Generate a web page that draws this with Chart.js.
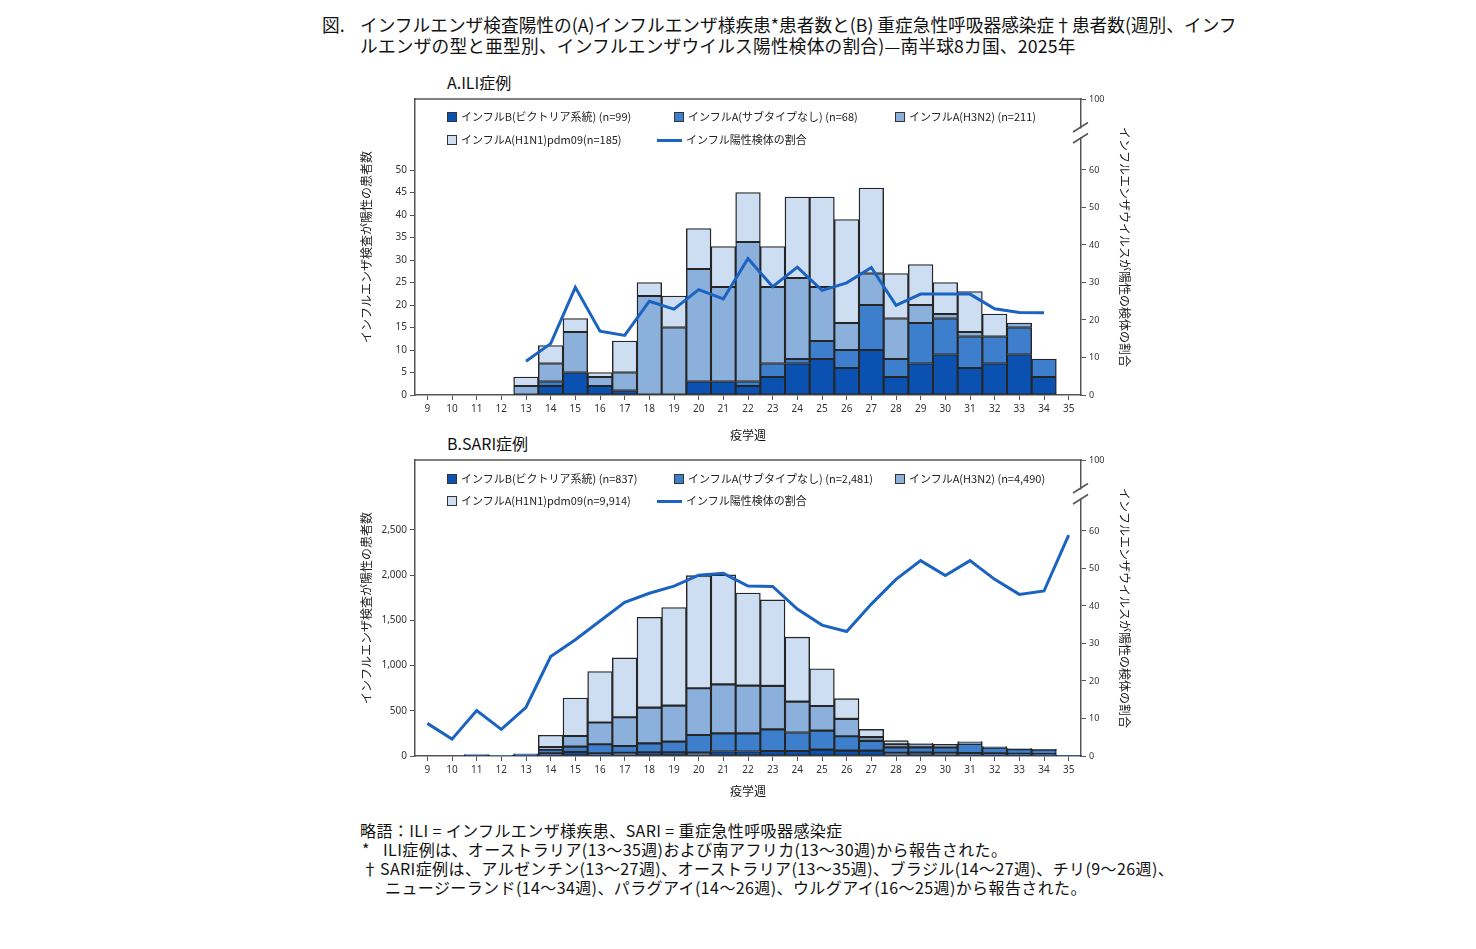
<!DOCTYPE html>
<html><head><meta charset="utf-8">
<script src="https://cdn.jsdelivr.net/npm/chart.js@4.4.1/dist/chart.umd.min.js"></script>
<style>
body{margin:0;width:1476px;height:949px;background:#fff;position:relative;overflow:hidden;font-family:"Noto Sans CJK JP","Noto Sans",sans-serif;color:#111}
.a{position:absolute;white-space:nowrap}
.t{font-size:17.7px;line-height:21px}
.lg{font-size:11px;line-height:12px;color:#222}
.sq{position:absolute;width:8px;height:8px;border:1.5px solid #333}
.ln{position:absolute;width:25px;height:3px}
.fn{font-size:16px;line-height:19px;letter-spacing:0.4px}
canvas{position:absolute}
</style></head>
<body>
<div class="a t" style="left:322px;top:14px">図.</div>
<div class="a t" style="left:360px;top:14px">インフルエンザ検査陽性の(A)インフルエンザ様疾患*患者数と(B) 重症急性呼吸器感染症†患者数(週別、インフ</div>
<div class="a t" style="left:360px;top:35px;letter-spacing:0.2px">ルエンザの型と亜型別、インフルエンザウイルス陽性検体の割合)—南半球8カ国、2025年</div>
<div class="a" style="left:447px;top:72px;font-size:16px;line-height:20px">A.ILI症例</div>
<div class="a" style="left:447px;top:433px;font-size:16px;line-height:20px">B.SARI症例</div>
<canvas id="c1" width="820" height="383" style="left:340px;top:60px;width:820px;height:383px"></canvas>
<canvas id="c2" width="820" height="378" style="left:340px;top:421px;width:820px;height:378px"></canvas>
<div id="leg"></div>
<div class="a fn" style="left:360px;top:821px">略語：ILI = インフルエンザ様疾患、SARI = 重症急性呼吸器感染症</div>
<div class="a fn" style="left:362px;top:840px">*</div>
<div class="a fn" style="left:383px;top:840px">ILI症例は、オーストラリア(13～35週)および南アフリカ(13～30週)から報告された。</div>
<div class="a fn" style="left:362px;top:859px">†</div>
<div class="a fn" style="left:380px;top:859px">SARI症例は、アルゼンチン(13～27週)、オーストラリア(13～35週)、ブラジル(14～27週)、チリ(9～26週)、</div>
<div class="a fn" style="left:385px;top:878px">ニュージーランド(14～34週)、パラグアイ(14～26週)、ウルグアイ(16～25週)から報告された。</div>
<script>
// ---- data ----
const weeks = ['9','10','11','12','13','14','15','16','17','18','19','20','21','22','23','24','25','26','27','28','29','30','31','32','33','34','35'];

const iliB  = [null,null,null,null,0,2,5,2,1,0,0,3,3,2,4,7,8,6,10,4,7,9,6,7,9,4,null];
const iliU  = [null,null,null,null,0,1,0,0,0,0,0,0,0,1,3,1,4,4,10,4,9,8,7,6,6,4,null];
const iliH3 = [null,null,null,null,2,4,9,2,4,22,15,25,21,31,17,18,12,6,7,9,4,1,1,0,1,0,null];
const iliH1 = [null,null,null,null,2,4,3,1,7,3,7,9,9,11,9,18,20,23,19,10,9,7,9,5,0,0,null];
const iliPct = [null,null,null,null,9.0,13.7,28.7,17.0,15.9,25.0,22.9,28.1,25.6,36.4,28.9,34.1,27.9,29.9,34.0,23.9,26.9,26.9,26.9,23.0,22.0,21.9,null];

const sariB  = [0,0,5,0,5,30,45,30,35,40,40,37,50,50,55,55,70,60,60,35,38,36,32,30,25,20,3];
const sariU  = [0,0,10,3,10,40,58,100,76,100,119,195,201,201,240,205,210,158,108,61,57,60,101,62,50,50,2];
const sariH3 = [0,0,0,0,5,30,118,240,317,395,398,517,542,528,480,341,273,192,40,33,40,32,20,8,4,3,0];
const sariH1 = [0,0,0,0,5,130,420,565,657,1000,1085,1246,1210,1024,951,714,412,225,87,41,5,5,6,3,2,1,0];
const sariPct = [8.7,4.5,12.1,7.1,13.0,26.5,31.0,36.0,41.0,43.4,45.3,48.2,48.7,45.3,45.2,39.2,34.9,33.2,40.5,47.1,52.1,48.1,52.1,47.1,43.1,44.0,58.9];

const iliLabels  = ['インフルB(ビクトリア系統) (n=99)','インフルA(サブタイプなし) (n=68)','インフルA(H3N2) (n=211)','インフルA(H1N1)pdm09(n=185)','インフル陽性検体の割合'];
const sariLabels = ['インフルB(ビクトリア系統) (n=837)','インフルA(サブタイプなし) (n=2,481)','インフルA(H3N2) (n=4,490)','インフルA(H1N1)pdm09(n=9,914)','インフル陽性検体の割合'];

const iliLeftTicks  = [0,5,10,15,20,25,30,35,40,45,50];
const sariLeftTicks = [0,500,1000,1500,2000,2500];
const rightTicks = [0,10,20,30,40,50,60];
const rightTopLabel = '100';

// ---- styles ----
const COLORS = ['#0b51b1','#3d7fcc','#8cb0dc','#cedef2'];
const LINE = '#1b63c0';
const AX = '#555';
const RMAX = 78.93;

const framePlugin = {
  id:'frame',
  afterDraw(chart){
    const {ctx, chartArea:{left,right,top}} = chart;
    ctx.save();
    ctx.strokeStyle = AX; ctx.lineWidth = 1.5;
    ctx.beginPath(); ctx.moveTo(left, top); ctx.lineTo(right+0.75, top); ctx.stroke();
    ctx.fillStyle = '#fff';
    ctx.fillRect(right-3, top+29.5, 6, 9);
    ctx.beginPath();
    ctx.moveTo(right-8, top+33); ctx.lineTo(right+7, top+23.5);
    ctx.moveTo(right-8, top+44); ctx.lineTo(right+7, top+34.5);
    ctx.stroke();
    ctx.restore();
  }
};

function makeChart(id, series, pct, labels, leftMax, leftTicks, xH, fmt){
  const ds = [{
    type:'line', label:labels[4], data:pct, yAxisID:'y2', borderColor:LINE, borderWidth:3,
    pointRadius:0, fill:false, tension:0, order:0, spanGaps:false
  }];
  series.forEach((s,i)=>ds.push({
    type:'bar', label:labels[i], data:s, yAxisID:'y', stack:'s', backgroundColor:COLORS[i],
    borderColor:'#262626', borderWidth:1.4, borderSkipped:false, barPercentage:1, categoryPercentage:1, order:1
  }));
  const tickFont = {family:'"Noto Sans", sans-serif', size:10};
  return new Chart(document.getElementById(id), {
    data:{labels:weeks, datasets:ds},
    plugins:[framePlugin],
    options:{
      responsive:false, animation:false,
      layout:{padding:{top:39,left:0,right:0,bottom:0}},
      plugins:{legend:{display:false}, tooltip:{enabled:false}},
      scales:{
        x:{
          type:'category', offset:true, stacked:true,
          grid:{display:true, drawOnChartArea:false, drawTicks:true, tickLength:5, offset:false, color:AX, lineWidth:1},
          border:{color:AX, width:1.5},
          ticks:{font:tickFont, color:'#333', padding:3, maxRotation:0, autoSkip:false},
          title:{display:true, text:'疫学週', color:'#111', font:{family:'"Noto Sans CJK JP"', size:12}, padding:{top:0,bottom:0}},
          afterFit:s=>{s.height = xH;}
        },
        y:{
          position:'left', stacked:true, min:0, max:leftMax,
          ticks:{font:tickFont, color:'#333', padding:3, callback:v=>fmt(v)},
          afterBuildTicks:s=>{s.ticks = leftTicks.map(v=>({value:v}));},
          grid:{drawOnChartArea:false, drawTicks:true, tickLength:5, color:AX},
          border:{color:AX, width:1.5},
          title:{display:true, text:'インフルエンザ検査が陽性の患者数', color:'#222', font:{family:'"Noto Sans CJK JP"', size:12}, padding:{top:19,bottom:0}},
          afterFit:s=>{s.width = 75;}
        },
        y2:{
          position:'right', min:0, max:RMAX,
          afterBuildTicks:s=>{s.ticks = rightTicks.concat([RMAX]).map(v=>({value:v}));},
          ticks:{font:{family:'"Noto Sans", sans-serif', size:9}, color:'#333', padding:3,
                 callback:v=> v>RMAX-0.1 ? rightTopLabel : String(v)},
          grid:{drawOnChartArea:false, drawTicks:true, tickLength:5, color:AX},
          border:{color:AX, width:1.5},
          title:{display:true, text:'インフルエンザウイルスが陽性の検体の割合', color:'#222', font:{family:'"Noto Sans CJK JP"', size:12}, padding:{top:28,bottom:0}},
          afterFit:s=>{s.width = 79;}
        }
      }
    }
  });
}

makeChart('c1',[iliB,iliU,iliH3,iliH1],iliPct,iliLabels,65.78,iliLeftTicks,48,v=>String(v));
makeChart('c2',[sariB,sariU,sariH3,sariH1],sariPct,sariLabels,3274,sariLeftTicks,43,v=>Number(v).toLocaleString('en-US'));

// ---- legends (HTML) ----
function legend(labels, y1, y2){
  const host = document.getElementById('leg');
  const pos = [[447,y1],[674,y1],[895,y1],[447,y2]];
  pos.forEach((p,i)=>{
    const sq = document.createElement('div'); sq.className='sq';
    sq.style.left=p[0]+'px'; sq.style.top=(p[1]-5.5)+'px'; sq.style.background=COLORS[i];
    host.appendChild(sq);
    const tx = document.createElement('div'); tx.className='a lg'; tx.textContent=labels[i];
    tx.style.left=(p[0]+14)+'px'; tx.style.top=(p[1]-7)+'px';
    host.appendChild(tx);
  });
  const ln = document.createElement('div'); ln.className='ln';
  ln.style.left='657px'; ln.style.top=(y2-1.5)+'px'; ln.style.background=LINE; host.appendChild(ln);
  const tx = document.createElement('div'); tx.className='a lg'; tx.textContent=labels[4];
  tx.style.left='686px'; tx.style.top=(y2-7)+'px'; host.appendChild(tx);
}
legend(iliLabels,117,140);
legend(sariLabels,479,501);
</script>
</body></html>
